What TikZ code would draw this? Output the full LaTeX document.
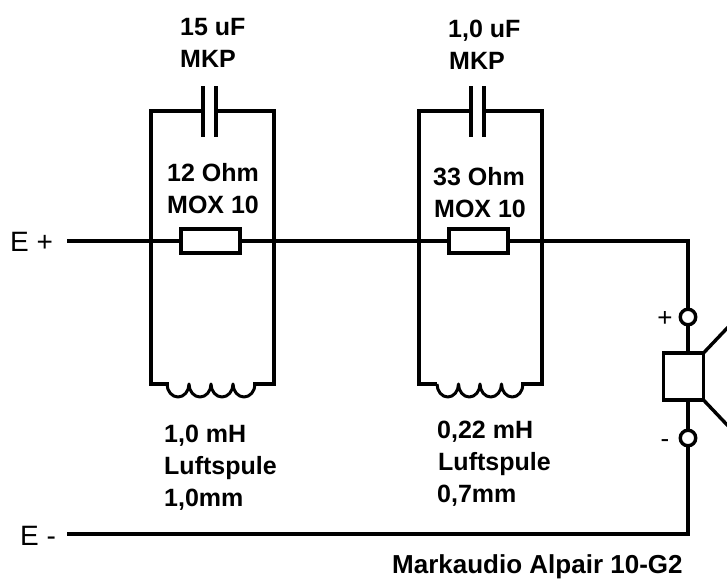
\documentclass[tikz,border=0pt]{standalone}
\usepackage{fontspec}
\setmainfont{Liberation Sans}
\tikzset{
  wire/.style={line width=3.4pt,line cap=rect,line join=miter},
  part/.style={draw,line width=3.4pt,fill=white,inner sep=0pt,minimum width=59pt},
  term/.style={circle,draw,line width=3.4pt,fill=white,inner sep=0pt,minimum size=15.5pt},
  lbl/.style={anchor=base west,inner sep=0pt,align=left,font=\fontsize{25}{32}\selectfont\bfseries},
  thin lbl/.style={anchor=base west,inner sep=0pt,font=\fontsize{28}{32}\selectfont},
  small sign/.style={anchor=base,inner sep=0pt,font=\fontsize{26}{28}\selectfont},
  coil/.style={line width=3pt,line join=round},
}
\begin{document}
\begin{tikzpicture}[x=1pt,y=-1pt]
\useasboundingbox (0,0) rectangle (727,579);
\clip (0,0) rectangle (727,579);
% coordinates
\coordinate (Ep) at (68.7,241);
\coordinate (En) at (68.7,534);
\coordinate (cornerT) at (688,241);
\coordinate (cornerB) at (688,534);
\foreach \n/\l/\r/\pa/\pb in {A/151/274/203/216,B/419/542/471/484}{
  \coordinate (\n-tl) at (\l,111);
  \coordinate (\n-tr) at (\r,111);
  \coordinate (\n-bl) at (\l,384);
  \coordinate (\n-br) at (\r,384);
  \coordinate (\n-ca) at (\pa,111);
  \coordinate (\n-cb) at (\pb,111);
  \draw[wire,line cap=butt] (\pa,86) -- (\pa,137);
  \draw[wire,line cap=butt] (\pb,86) -- (\pb,137);
  \draw[wire] (\n-ca) -- (\n-tl) -- (\n-bl) -- ++(16,0);
  \draw[wire] (\n-cb) -- (\n-tr) -- (\n-br) -- ++(-19,0);
}
\coordinate (Aca) at (167,384);
\coordinate (Acb) at (255,384);
\coordinate (Bca) at (437,384);
\coordinate (Bcb) at (523,384);
\draw[coil] (Aca) arc[start angle=180,end angle=0,x radius=11,y radius=13]
  arc[start angle=180,end angle=0,x radius=11,y radius=13]
  arc[start angle=180,end angle=0,x radius=11,y radius=13]
  arc[start angle=180,end angle=0,x radius=11,y radius=13];
\draw[coil] (Bca) arc[start angle=180,end angle=0,x radius=10.75,y radius=13]
  arc[start angle=180,end angle=0,x radius=10.75,y radius=13]
  arc[start angle=180,end angle=0,x radius=10.75,y radius=13]
  arc[start angle=180,end angle=0,x radius=10.75,y radius=13];
% main wires and resistors
\node[part,minimum height=24pt] (R1) at (210.5,241) {};
\node[part,minimum height=24pt] (R2) at (478.5,241) {};
\node[term] (T1) at (688,317) {};
\node[term] (T2) at (688,438) {};
\node[draw,line width=3.4pt,inner sep=0pt,outer sep=0pt,minimum width=40pt,minimum height=47pt] (SP) at (683.5,376.5) {};
\coordinate (coneA) at (731,324);
\coordinate (coneB) at (731,429);
\draw[wire] (Ep) -- (R1);
\draw[wire] (R1) -- (R2);
\draw[wire] (R2) -- (cornerT) -- (T1);
\draw[wire] (T1) -- (T1 |- SP.north);
\draw[wire] (T1 |- SP.south) -- (T2);
\draw[wire] (T2) -- (cornerB) -- (En);
\draw[wire,line cap=butt] (SP.north east) -- (coneA);
\draw[wire,line cap=butt] (SP.south east) -- (coneB);
% labels
\node[lbl] (l1) at (180,35) {15 uF};
\node[lbl] (l1b) at (180,67) {MKP};
\node[lbl] (l2) at (167,181) {12 Ohm};
\node[lbl] (l2b) at (167,213) {MOX 10};
\node[lbl] (l3) at (448,37) {1,0 uF};
\node[lbl] (l3b) at (449,69) {MKP};
\node[lbl] (l4) at (433,185) {33 Ohm};
\node[lbl] (l4b) at (434,217) {MOX 10};
\node[lbl] (l5) at (164,442) {1,0 mH};
\node[lbl] (l5b) at (164,474) {Luftspule};
\node[lbl] (l5c) at (164,506) {1,0mm};
\node[lbl] (l6) at (437,438) {0,22 mH};
\node[lbl] (l6b) at (438,470) {Luftspule};
\node[lbl] (l6c) at (437,502) {0,7mm};
\node[lbl,font=\fontsize{26}{32}\selectfont\bfseries] (l7) at (392,573) {Markaudio Alpair 10-G2};
\node[thin lbl] (Ea) at (10,251) {E +};
\node[thin lbl] (Eb) at (20,545) {E -};
\node[small sign] (sp) at (665,326) {+};
\node[small sign] (sn) at (665,447) {-};
\end{tikzpicture}
\end{document}
